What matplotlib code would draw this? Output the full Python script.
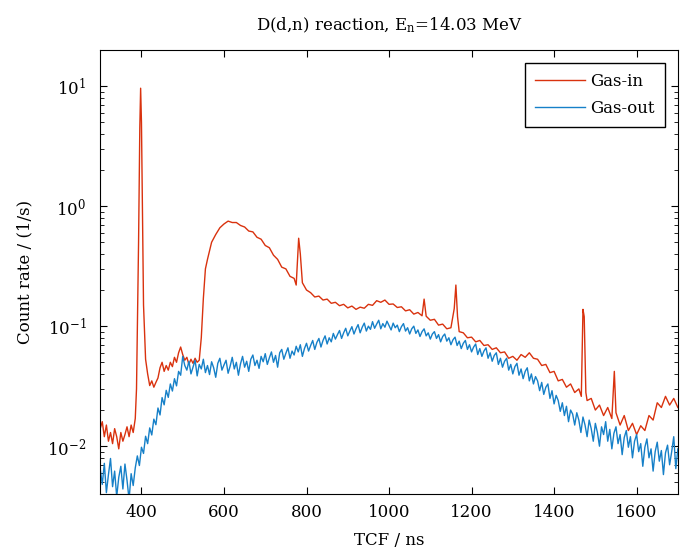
import matplotlib
matplotlib.use("Agg")
import matplotlib.pyplot as plt
import numpy as np

plt.rcParams['font.family'] = ['DejaVu Serif']
plt.rcParams['mathtext.fontset'] = 'dejavuserif'
plt.rcParams['axes.unicode_minus'] = False

# Gas-in: TCF (ns) y tasa de conteo (1/s)
t_in = [300, 305, 310, 315, 320, 325, 330, 335, 340, 345, 350, 355, 360, 365, 370,
        375, 380, 385, 388, 390, 393, 396, 398, 400, 402, 405, 410, 415, 420, 425,
        430, 435, 440, 445, 450, 455, 460, 465, 470, 475, 480, 485, 490, 495, 500,
        505, 510, 515, 520, 525, 530, 535, 540, 545, 550, 555, 560, 570, 580, 590,
        600, 610, 620, 630, 640, 650, 660, 670, 680, 690, 700, 710, 720, 730, 740,
        750, 760, 770, 775, 778, 781, 785, 790, 800, 810, 820, 830, 840, 850, 860,
        870, 880, 890, 900, 910, 920, 930, 940, 950, 960, 970, 980, 990, 1000, 1010,
        1020, 1030, 1040, 1050, 1060, 1070, 1080, 1085, 1090, 1100, 1110, 1120, 1130, 1140, 1150,
        1158, 1162, 1166, 1170, 1180, 1190, 1200, 1210, 1220, 1230, 1240, 1250, 1260, 1270, 1280,
        1290, 1300, 1310, 1320, 1330, 1340, 1350, 1360, 1370, 1380, 1390, 1400, 1410, 1420, 1430,
        1440, 1450, 1460, 1466, 1470, 1473, 1477, 1480, 1490, 1500, 1510, 1520, 1530, 1540, 1546,
        1550, 1560, 1570, 1580, 1590, 1600, 1610, 1620, 1630, 1640, 1650, 1660, 1670, 1680, 1690,
        1700]
gas_in = [0.014, 0.016, 0.012, 0.015, 0.011, 0.013, 0.0105, 0.014, 0.012, 0.0095, 0.013, 0.011, 0.0125, 0.0145, 0.012,
          0.015, 0.013, 0.017, 0.03, 0.09, 0.5, 4.5, 9.6, 5.0, 1.2, 0.15, 0.053, 0.04, 0.032, 0.035,
          0.031, 0.034, 0.037, 0.045, 0.05, 0.042, 0.047, 0.043, 0.05, 0.046, 0.055, 0.05, 0.06, 0.067, 0.058,
          0.052, 0.055, 0.048, 0.053, 0.049, 0.054, 0.05, 0.052, 0.08, 0.17, 0.3, 0.36, 0.5, 0.58, 0.66,
          0.71, 0.75, 0.73, 0.73, 0.69, 0.67, 0.62, 0.61, 0.55, 0.53, 0.47, 0.45, 0.39, 0.36, 0.31,
          0.3, 0.26, 0.25, 0.22, 0.35, 0.54, 0.4, 0.23, 0.2, 0.19, 0.175, 0.178, 0.165, 0.168, 0.155,
          0.158, 0.148, 0.152, 0.142, 0.147, 0.138, 0.144, 0.141, 0.152, 0.149, 0.163, 0.158, 0.165, 0.152, 0.153,
          0.143, 0.145, 0.134, 0.137, 0.126, 0.13, 0.122, 0.168, 0.121, 0.112, 0.114, 0.102, 0.104, 0.095, 0.097,
          0.14, 0.22, 0.12, 0.09, 0.088, 0.08, 0.081, 0.074, 0.076, 0.069, 0.07, 0.064, 0.066, 0.06, 0.061,
          0.054, 0.056, 0.052, 0.058, 0.055, 0.06, 0.054, 0.053, 0.047, 0.048, 0.041, 0.042, 0.035, 0.036, 0.031,
          0.033, 0.028, 0.03, 0.026, 0.138, 0.12, 0.028, 0.024, 0.025, 0.02, 0.022, 0.018, 0.021, 0.017, 0.042,
          0.019, 0.015, 0.018, 0.0135, 0.0155, 0.0125, 0.0148, 0.0135, 0.018, 0.0165, 0.023, 0.021, 0.026, 0.022, 0.025,
          0.021]

# Gas-out: cada 5 ns desde 300 hasta 1700
t_out = np.arange(300, 1705, 5)
gas_out = [0.0065, 0.0048, 0.0072, 0.0041, 0.0058, 0.0079, 0.0046, 0.0062, 0.0038, 0.0055,
           0.0068, 0.0044, 0.0071, 0.0052, 0.0036, 0.0059, 0.0047, 0.0066, 0.0083, 0.0069,
           0.0098, 0.0087, 0.0121, 0.0105, 0.0142, 0.0124, 0.0168, 0.0151, 0.0208, 0.0182,
           0.0254, 0.0221, 0.0292, 0.0255, 0.0330, 0.0288, 0.0365, 0.0318, 0.0420, 0.0390,
           0.0560, 0.0470, 0.0430, 0.0510, 0.0400, 0.0455, 0.0520, 0.0385, 0.0480, 0.0440,
           0.0530, 0.0410, 0.0470, 0.0395, 0.0505, 0.0450, 0.0375, 0.0490, 0.0540, 0.0430,
           0.0475, 0.0520, 0.0405, 0.0465, 0.0550, 0.0440, 0.0500, 0.0390, 0.0485, 0.0560,
           0.0455, 0.0510, 0.0420, 0.0530, 0.0575, 0.0470, 0.0520, 0.0445, 0.0560, 0.0505,
           0.0590, 0.0480, 0.0545, 0.0610, 0.0500, 0.0570, 0.0455, 0.0600, 0.0640, 0.0530,
           0.0595, 0.0660, 0.0540, 0.0620, 0.0575, 0.0680, 0.0610, 0.0700, 0.0560, 0.0650,
           0.0720, 0.0620, 0.0690, 0.0760, 0.0640, 0.0730, 0.0790, 0.0670, 0.0760, 0.0830,
           0.0710, 0.0800, 0.0740, 0.0870, 0.0780, 0.0850, 0.0920, 0.0790, 0.0880, 0.0960,
           0.0830, 0.0910, 0.0990, 0.0860, 0.0950, 0.1030, 0.0880, 0.0980, 0.1060, 0.0910,
           0.1000, 0.0940, 0.1090, 0.0960, 0.1040, 0.1120, 0.0950, 0.1050, 0.0980, 0.1100,
           0.1010, 0.0930, 0.1060, 0.0970, 0.1020, 0.0900, 0.0990, 0.1050, 0.0910, 0.0970,
           0.0860, 0.0950, 0.1000, 0.0870, 0.0930, 0.0820, 0.0900, 0.0950, 0.0830, 0.0880,
           0.0780, 0.0860, 0.0900, 0.0790, 0.0850, 0.0740, 0.0820, 0.0860, 0.0750, 0.0800,
           0.0700, 0.0770, 0.0810, 0.0690, 0.0750, 0.0650, 0.0720, 0.0760, 0.0640, 0.0700,
           0.0610, 0.0670, 0.0710, 0.0580, 0.0650, 0.0560, 0.0620, 0.0660, 0.0540, 0.0600,
           0.0510, 0.0570, 0.0600, 0.0480, 0.0540, 0.0455, 0.0510, 0.0540, 0.0430, 0.0480,
           0.0400, 0.0460, 0.0490, 0.0390, 0.0440, 0.0365, 0.0420, 0.0450, 0.0350, 0.0400,
           0.0330, 0.0380, 0.0350, 0.0290, 0.0340, 0.0270, 0.0310, 0.0330, 0.0250, 0.0290,
           0.0225, 0.0265, 0.0240, 0.0195, 0.0230, 0.0180, 0.0215, 0.0160, 0.0200, 0.0185,
           0.0150, 0.0190, 0.0165, 0.0130, 0.0175, 0.0150, 0.0120, 0.0165, 0.0140, 0.0110,
           0.0155, 0.0130, 0.0100, 0.0145, 0.0125, 0.0160, 0.0110, 0.0138, 0.0095, 0.0128,
           0.0145, 0.0105, 0.0125, 0.0085, 0.0118, 0.0135, 0.0098, 0.0120, 0.0080, 0.0110,
           0.0125, 0.0090, 0.0105, 0.0068, 0.0098, 0.0115, 0.0080, 0.0095, 0.0062, 0.0090,
           0.0108, 0.0075, 0.0092, 0.0058, 0.0088, 0.0102, 0.0070, 0.0090, 0.0120, 0.0065,
           0.0095]

fig = plt.figure(figsize=(6.91, 5.55), dpi=100)
ax = fig.add_axes([0.145, 0.11, 0.836, 0.80])

ax.plot(t_in, gas_in, color='#d9320e', lw=1.0, label='Gas-in')
ax.plot(t_out, gas_out, color='#1680c8', lw=1.0, label='Gas-out')

ax.set_yscale('log')
ax.set_xlim(300, 1700)
ax.set_ylim(0.004, 20)
ax.set_xticks([400, 600, 800, 1000, 1200, 1400, 1600])
ax.tick_params(which='both', direction='in', top=True, right=True, labelsize=12)
ax.tick_params(axis='x', pad=7)
ax.tick_params(axis='y', pad=10)
ax.tick_params(which='major', length=5)
ax.tick_params(which='minor', length=3)

ax.set_xlabel("TCF / ns", fontsize=12, labelpad=8)
ax.set_ylabel("Count rate / (1/s)", fontsize=12, labelpad=10)
ax.set_title(r"D(d,n) reaction, E$_\mathregular{n}$=14.03 MeV", fontsize=12, pad=14)

leg = ax.legend(loc='upper right', fontsize=12, fancybox=False, edgecolor='black',
                handlelength=3.0, handletextpad=0.3, labelspacing=0.6, borderpad=0.6,
                borderaxespad=0.8, framealpha=1)
leg.get_frame().set_linewidth(1.0)

fig.savefig("out.png", dpi=100)
